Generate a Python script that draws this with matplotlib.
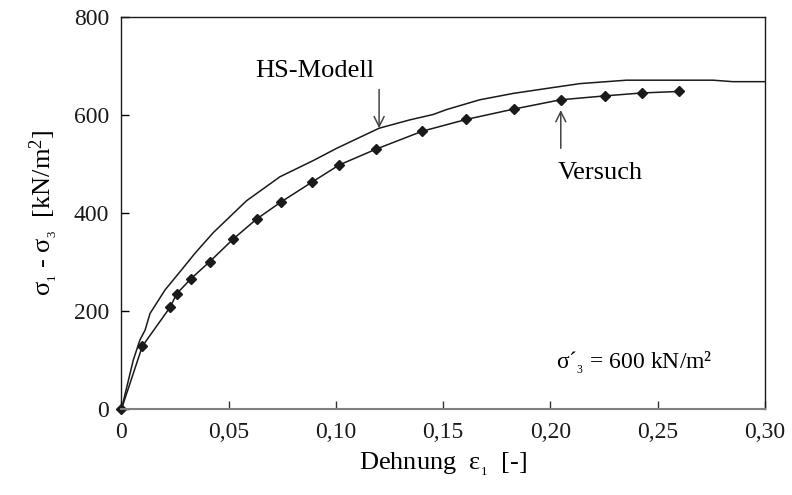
import matplotlib
matplotlib.use("Agg")
import matplotlib.pyplot as plt

plt.rcParams['font.family'] = ['Liberation Serif', 'DejaVu Serif']
plt.rcParams['mathtext.fontset'] = 'custom'
plt.rcParams['mathtext.rm'] = 'Liberation Serif'
plt.rcParams['mathtext.it'] = 'Liberation Serif'
plt.rcParams['mathtext.bf'] = 'Liberation Serif:bold'

# measured triaxial test (Versuch)
versuch_eps = [0, 0.0097, 0.0227, 0.0257, 0.0324, 0.0412, 0.0521, 0.0631, 0.0742,
               0.0888, 0.1015, 0.1185, 0.1403, 0.1608, 0.1828, 0.2047, 0.2254,
               0.2427, 0.2599]
versuch_q = [0, 128, 208, 235, 266, 301, 347, 388, 422,
             463, 498, 530, 567, 591, 612, 631, 639, 645, 648]

# Hardening-Soil model
hs_eps = [0, 0.0055, 0.0086, 0.011, 0.0133, 0.0203, 0.028, 0.0343, 0.0428,
          0.0583, 0.0739, 0.0894, 0.1003, 0.1201, 0.1344, 0.1453, 0.1515,
          0.167, 0.1826, 0.198, 0.2137, 0.2354, 0.2758, 0.285, 0.30]
hs_q = [0, 100, 141, 161, 195, 243, 284, 318, 360,
        425, 474, 507, 532, 573, 590, 601, 611,
        631, 644, 654, 664, 671, 671, 668, 668]

xticks = [0, 0.05, 0.10, 0.15, 0.20, 0.25, 0.30]
xticklabels = ['0', '0,05', '0,10', '0,15', '0,20', '0,25', '0,30']
yticks = [0, 200, 400, 600, 800]

fig = plt.figure(figsize=(7.92, 4.95), dpi=100)
ax = fig.add_axes([0.1534, 0.1737, 0.8125, 0.792])

ax.plot(hs_eps, hs_q, color='#1a1a1a', lw=1.1)
ax.plot(versuch_eps, versuch_q, color='#1a1a1a', lw=1.1, marker='D', ms=5,
        clip_on=False)

ax.set_xlim(0, 0.30)
ax.set_ylim(0, 800)
ax.set_xticks(xticks)
ax.set_xticklabels(xticklabels)
ax.set_yticks(yticks)
ax.tick_params(direction='in', length=6, width=1, labelsize=17)
ax.tick_params(axis='x', pad=9, colors='#333333', labelcolor='#1a1a1a')
ax.tick_params(axis='y', pad=9, labelcolor='#1a1a1a')

for side in ['left', 'top', 'right']:
    ax.spines[side].set_color('#1a1a1a')
    ax.spines[side].set_linewidth(1.0)
ax.spines['bottom'].set_color('#808080')
ax.spines['bottom'].set_linewidth(1.5)

ax.set_xlabel(r'Dehnung  $\epsilon_{_1}$  [-]', fontsize=19, labelpad=6)
ax.set_ylabel(r'$\sigma_{_1}$ - $\sigma_{_3}$  [kN/m$^2$]', fontsize=19, labelpad=10)

ax.annotate('', xy=(0.1201, 573), xytext=(0.1201, 652),
            arrowprops=dict(arrowstyle='->', color='#444444', lw=1.1,
                            mutation_scale=18, shrinkA=0, shrinkB=0))
ax.text(0.0625, 689, 'HS-Modell', fontsize=19, va='center', ha='left')

ax.annotate('', xy=(0.2048, 610), xytext=(0.2048, 532),
            arrowprops=dict(arrowstyle='->', color='#444444', lw=1.1,
                            mutation_scale=18, shrinkA=0, shrinkB=0))
ax.text(0.2034, 482, 'Versuch', fontsize=19, va='center', ha='left')

ax.text(0.2028, 94, r'$\sigma$´$_{_3}$ = 600 kN/m²', fontsize=17, va='center', ha='left')

fig.savefig('out.png', dpi=100)
